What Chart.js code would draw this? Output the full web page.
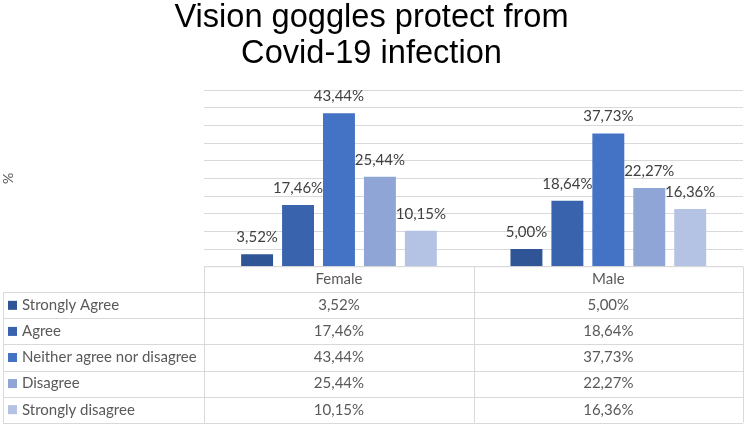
<!DOCTYPE html>
<html>
<head>
<meta charset="utf-8">
<script src="https://cdn.jsdelivr.net/npm/chart.js@4.4.0/dist/chart.umd.min.js"></script>
<style>
  html, body { margin: 0; padding: 0; background: #fff; }
  #wrap { width: 744px; height: 424px; }
</style>
</head>
<body>
<div id="wrap"><canvas id="chart" width="744" height="424"></canvas></div>
<script>
// Data
const groups = ['Female', 'Male'];
const answers = ['Strongly Agree', 'Agree', 'Neither agree nor disagree', 'Disagree', 'Strongly disagree'];
const stronglyAgree = [3.52, 5.00];
const agree = [17.46, 18.64];
const neither = [43.44, 37.73];
const disagree = [25.44, 22.27];
const stronglyDisagree = [10.15, 16.36];
const yTicks = [0, 50, 5]; // min, max, step

const colors = ['#2f5597', '#3a63ad', '#4472c4', '#8ea5d6', '#b4c2e4'];
const series = [stronglyAgree, agree, neither, disagree, stronglyDisagree];
const textFont = 'Lato, "Open Sans", sans-serif';

function fmt(v) {
    return v.toFixed(2).replace('.', ',') + '%';
}

// Value labels above each bar
const barLabels = {
    id: 'barLabels',
    afterDatasetsDraw(chart) {
        const ctx = chart.ctx;
        ctx.save();
        ctx.font = '15px ' + textFont;
        ctx.fillStyle = '#404040';
        ctx.textAlign = 'center';
        ctx.textBaseline = 'middle';
        chart.data.datasets.forEach(function(ds, i) {
            chart.getDatasetMeta(i).data.forEach(function(bar, j) {
                ctx.fillText(fmt(ds.data[j]), bar.x, bar.y - 17);
            });
        });
        ctx.restore();
    }
};

// Data table under the plot (acts as the legend too)
const dataTable = {
    id: 'dataTable',
    afterDraw(chart) {
        const ctx = chart.ctx;
        const x = chart.scales.x;
        const area = chart.chartArea;
        const headH = 25.6, rowH = 26.08;
        const colW = (x.right - x.left) / groups.length;
        const top = area.bottom;
        const bodyTop = top + headH;
        const bottom = bodyTop + rowH * answers.length;
        const leftEdge = 3;

        ctx.save();
        ctx.strokeStyle = '#d9d9d9';
        ctx.lineWidth = 1;
        ctx.beginPath();
        // header top + column lines
        ctx.moveTo(x.left, top); ctx.lineTo(x.right, top);
        for (let c = 0; c <= groups.length; c++) {
            const cx = Math.round(x.left + c * colW) + 0.5;
            ctx.moveTo(cx, top); ctx.lineTo(cx, bottom);
        }
        // body rows
        for (let r = 0; r <= answers.length; r++) {
            const ry = Math.round(bodyTop + r * rowH) + 0.5;
            ctx.moveTo(leftEdge, ry); ctx.lineTo(x.right, ry);
        }
        ctx.moveTo(leftEdge + 0.5, bodyTop); ctx.lineTo(leftEdge + 0.5, bottom);
        ctx.stroke();

        ctx.font = '15px ' + textFont;
        ctx.fillStyle = '#595959';
        ctx.textBaseline = 'middle';
        ctx.textAlign = 'center';
        groups.forEach(function(g, c) {
            ctx.fillText(g, x.getPixelForValue(c), top + headH / 2);
        });
        answers.forEach(function(a, r) {
            const cy = bodyTop + r * rowH + rowH / 2;
            ctx.fillStyle = colors[r];
            ctx.fillRect(8, cy - 4.5, 9, 9);
            ctx.fillStyle = '#595959';
            ctx.textAlign = 'left';
            ctx.fillText(a, 22, cy);
            ctx.textAlign = 'center';
            series[r].forEach(function(v, c) {
                ctx.fillText(fmt(v), x.getPixelForValue(c), cy);
            });
        });
        ctx.restore();
    }
};

new Chart(document.getElementById('chart'), {
    type: 'bar',
    data: {
        labels: groups,
        datasets: answers.map(function(a, i) {
            return {
                label: a,
                data: series[i],
                backgroundColor: colors[i],
                categoryPercentage: 0.76,
                barPercentage: 0.78
            };
        })
    },
    options: {
        responsive: false,
        animation: false,
        layout: { padding: { left: 0, right: 1, top: 0, bottom: 149.3 } },
        plugins: {
            legend: { display: false },
            tooltip: { enabled: false },
            title: {
                display: true,
                text: ['Vision goggles protect from', 'Covid-19 infection'],
                color: '#000',
                font: { family: '"Liberation Sans", Arial, sans-serif', size: 32.6, weight: 'normal', lineHeight: 1.074 },
                padding: { top: 1, bottom: 19 }
            }
        },
        scales: {
            x: {
                ticks: { display: false },
                grid: { display: false },
                border: { display: false }
            },
            y: {
                min: yTicks[0],
                max: yTicks[1],
                ticks: { display: false, stepSize: yTicks[2] },
                grid: { color: '#d9d9d9', drawTicks: false },
                border: { display: false },
                title: {
                    display: true,
                    text: '%',
                    color: '#595959',
                    font: { family: textFont, size: 14 },
                    padding: { top: 0, bottom: 187.5 }
                }
            }
        }
    },
    plugins: [barLabels, dataTable]
});
</script>
</body>
</html>
